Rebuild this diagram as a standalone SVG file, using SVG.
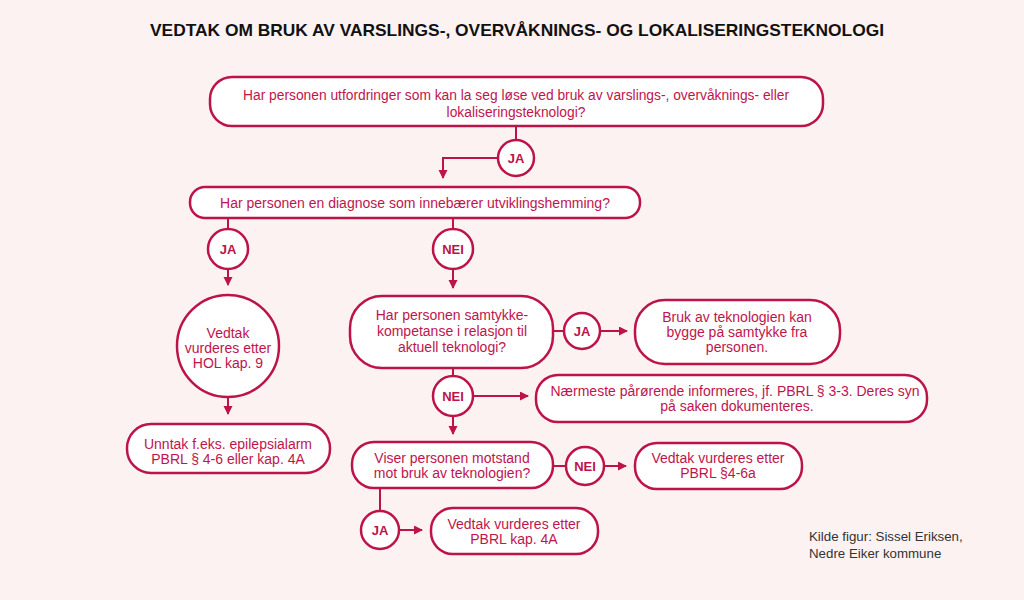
<svg xmlns="http://www.w3.org/2000/svg" width="1024" height="600" viewBox="0 0 1024 600">
<defs>
<marker id="arr" markerUnits="userSpaceOnUse" markerWidth="10" markerHeight="10" refX="8" refY="4.5" orient="auto">
<path d="M0,0 L9,4.5 L0,9 z" fill="#bc1349"/>
</marker>
<style>
.box{fill:#ffffff;stroke:#bc1349;stroke-width:2.5}
.t{font-family:"Liberation Sans",Arial,Helvetica,sans-serif;font-size:14px;fill:#c0144d;text-anchor:middle}
.s{font-size:13.8px}
.c{font-family:"Liberation Sans",Arial,Helvetica,sans-serif;font-size:13px;font-weight:bold;fill:#bc1349;text-anchor:middle}
.ln{fill:none;stroke:#bc1349;stroke-width:2}
.ar{fill:none;stroke:#bc1349;stroke-width:2;marker-end:url(#arr)}
</style>
</defs>
<rect width="1024" height="600" fill="#fdf2f2"/>
<text x="517" y="36" font-family="Liberation Sans,Arial,sans-serif" font-size="17" font-weight="bold" fill="#111" text-anchor="middle" textLength="734" lengthAdjust="spacingAndGlyphs">VEDTAK OM BRUK AV VARSLINGS-, OVERVÅKNINGS- OG LOKALISERINGSTEKNOLOGI</text>

<g id="connectors">
<line class="ln" x1="516" y1="126" x2="516" y2="140"/>
<polyline class="ar" points="498,158 443,158 443,178"/>
<line class="ln" x1="228" y1="218" x2="228" y2="229"/>
<line class="ln" x1="453" y1="218" x2="453" y2="229"/>
<line class="ar" x1="228" y1="269" x2="228" y2="285"/>
<line class="ar" x1="453" y1="269" x2="453" y2="288"/>
<line class="ar" x1="228" y1="397" x2="228" y2="414"/>
<line class="ln" x1="553" y1="331" x2="564" y2="331"/>
<line class="ar" x1="600" y1="331" x2="627" y2="331"/>
<line class="ln" x1="453" y1="368" x2="453" y2="376"/>
<line class="ar" x1="473" y1="396" x2="528" y2="396"/>
<line class="ar" x1="453" y1="416" x2="453" y2="434"/>
<line class="ln" x1="553" y1="466" x2="566" y2="466"/>
<line class="ar" x1="604" y1="466" x2="626" y2="466"/>
<line class="ln" x1="380" y1="488" x2="380" y2="511"/>
<line class="ar" x1="399" y1="530" x2="422" y2="530"/>
</g>

<g id="q1">
<rect class="box" x="210" y="77" width="613" height="49" rx="22"/>
<text class="t s" x="516" y="100">Har personen utfordringer som kan la seg løse ved bruk av varslings-, overvåknings- eller</text>
<text class="t s" x="516" y="117">lokaliseringsteknologi?</text>
</g>
<g id="ja1"><circle class="box" cx="516" cy="158" r="18"/><text class="c" x="516" y="162.5">JA</text></g>

<g id="q2">
<rect class="box" x="190" y="187" width="450" height="31" rx="15"/>
<text class="t" x="415" y="208">Har personen en diagnose som innebærer utviklingshemming?</text>
</g>
<g id="ja2"><circle class="box" cx="228" cy="249" r="20"/><text class="c" x="228" y="253.5">JA</text></g>
<g id="nei2"><circle class="box" cx="453" cy="249" r="20"/><text class="c" x="453" y="253.5">NEI</text></g>

<g id="hol">
<circle class="box" cx="228" cy="346" r="51"/>
<text class="t" x="228" y="338">Vedtak</text>
<text class="t" x="228" y="353">vurderes etter</text>
<text class="t" x="228" y="368">HOL kap. 9</text>
</g>
<g id="unntak">
<rect class="box" x="127" y="424" width="203" height="49" rx="24"/>
<text class="t" x="228" y="449">Unntak f.eks. epilepsialarm</text>
<text class="t" x="228" y="464">PBRL § 4-6 eller kap. 4A</text>
</g>

<g id="q3">
<rect class="box" x="350" y="296" width="203" height="72" rx="32"/>
<text class="t" x="452" y="320">Har personen samtykke-</text>
<text class="t" x="452" y="336">kompetanse i relasjon til</text>
<text class="t" x="452" y="352">aktuell teknologi?</text>
</g>
<g id="ja3"><circle class="box" cx="582" cy="331" r="18"/><text class="c" x="582" y="335.5">JA</text></g>
<g id="bruk">
<rect class="box" x="635" y="300" width="205" height="64" rx="30"/>
<text class="t" x="737" y="322">Bruk av teknologien kan</text>
<text class="t" x="737" y="337">bygge på samtykke fra</text>
<text class="t" x="737" y="352">personen.</text>
</g>
<g id="nei3"><circle class="box" cx="453" cy="396" r="20"/><text class="c" x="453" y="400.5">NEI</text></g>
<g id="naermeste">
<rect class="box" x="536" y="375" width="391" height="47" rx="22"/>
<text class="t" x="735" y="396">Nærmeste pårørende informeres, jf. PBRL § 3-3. Deres syn</text>
<text class="t" x="737" y="411">på saken dokumenteres.</text>
</g>

<g id="q4">
<rect class="box" x="352" y="442" width="201" height="46" rx="22"/>
<text class="t" x="452" y="463">Viser personen motstand</text>
<text class="t" x="452" y="478">mot bruk av teknologien?</text>
</g>
<g id="nei4"><circle class="box" cx="585" cy="466" r="19"/><text class="c" x="585" y="470.5">NEI</text></g>
<g id="pbrl46a">
<rect class="box" x="635" y="443" width="167" height="46" rx="22"/>
<text class="t" x="718" y="463">Vedtak vurderes etter</text>
<text class="t" x="718" y="478">PBRL §4-6a</text>
</g>
<g id="ja4"><circle class="box" cx="380" cy="530" r="19"/><text class="c" x="380" y="534.5">JA</text></g>
<g id="pbrl4a">
<rect class="box" x="431" y="508" width="167" height="46" rx="22"/>
<text class="t" x="514" y="529">Vedtak vurderes etter</text>
<text class="t" x="514" y="544">PBRL kap. 4A</text>
</g>

<g id="kilde">
<text x="809" y="541" font-family="Liberation Sans,Arial,sans-serif" font-size="13.3" fill="#333">Kilde figur: Sissel Eriksen,</text>
<text x="809" y="558" font-family="Liberation Sans,Arial,sans-serif" font-size="13.3" fill="#333">Nedre Eiker kommune</text>
</g>
</svg>
